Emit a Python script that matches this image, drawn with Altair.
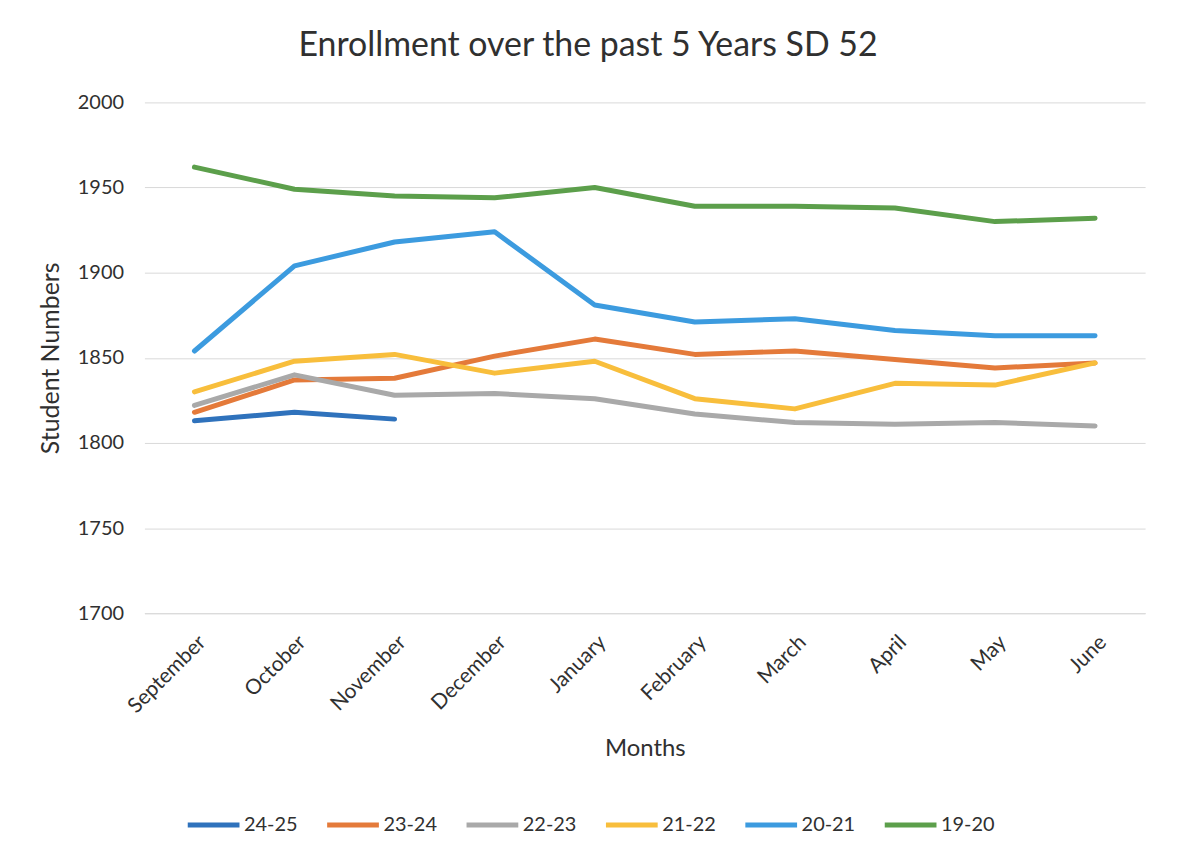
import altair as alt
import pandas as pd

months = ["September", "October", "November", "December", "January",
          "February", "March", "April", "May", "June"]
series_names = ["24-25", "23-24", "22-23", "21-22", "20-21", "19-20"]
colors = ["#2F72BC", "#E47A3A", "#A9A9A9", "#F8BE3C", "#3C9BDF", "#5C9F4B"]

y_24_25 = [1813, 1818, 1814]
y_23_24 = [1818, 1837, 1838, 1851, 1861, 1852, 1854, 1849, 1844, 1847]
y_22_23 = [1822, 1840, 1828, 1829, 1826, 1817, 1812, 1811, 1812, 1810]
y_21_22 = [1830, 1848, 1852, 1841, 1848, 1826, 1820, 1835, 1834, 1847]
y_20_21 = [1854, 1904, 1918, 1924, 1881, 1871, 1873, 1866, 1863, 1863]
y_19_20 = [1962, 1949, 1945, 1944, 1950, 1939, 1939, 1938, 1930, 1932]

all_series = [y_24_25, y_23_24, y_22_23, y_21_22, y_20_21, y_19_20]
rows = []
for name, vals in zip(series_names, all_series):
    for m, v in zip(months, vals):
        rows.append({"Month": m, "Year": name, "Students": v})
df = pd.DataFrame(rows)

FONT = "Lato"
TXT = "#303030"

chart = alt.Chart(df).mark_line(strokeWidth=5, strokeCap="round", strokeJoin="round").encode(
    x=alt.X("Month:N", sort=months, scale=alt.Scale(type="point", padding=0.5),
            axis=alt.Axis(title="Months", labelAngle=-45, labelAlign="right", labelBaseline="top",
                          labelFontSize=21, labelColor=TXT, titleFontSize=24,
                          titleColor=TXT, titleFontWeight="normal", titlePadding=20,
                          ticks=False, domain=True, domainColor="#D9D9D9", labelPadding=18,
                          grid=False)),
    y=alt.Y("Students:Q", scale=alt.Scale(domain=[1700, 2000], nice=False, zero=False),
            axis=alt.Axis(title="Student Numbers", values=[1700, 1750, 1800, 1850, 1900, 1950, 2000],
                          format="d", labelFontSize=20, labelColor=TXT, titleFontSize=25,
                          titleColor=TXT, titleFontWeight="normal", titlePadding=14,
                          ticks=False, domain=False, gridColor="#D9D9D9", labelPadding=21)),
    color=alt.Color("Year:N", scale=alt.Scale(domain=series_names, range=colors),
                    legend=alt.Legend(title=None, orient="none", legendX=41, legendY=697,
                                      direction="horizontal", columns=6, symbolType="stroke",
                                      symbolSize=2700, symbolStrokeWidth=5, labelFontSize=20,
                                      labelColor=TXT, columnPadding=19, labelOffset=2)),
    detail="Year:N",
).properties(
    width=1005, height=513,
    title=alt.TitleParams("Enrollment over the past 5 Years SD 52", fontSize=34,
                          fontWeight="normal", color=TXT, anchor="middle", offset=30, dx=-57),
    autosize=alt.AutoSizeParams(type="none"),
    padding={"left": 137, "top": 93, "right": 25, "bottom": 240},
).configure(font=FONT).configure_view(stroke=None)

chart.save("out.html", embed_options={"renderer": "svg", "actions": False})
